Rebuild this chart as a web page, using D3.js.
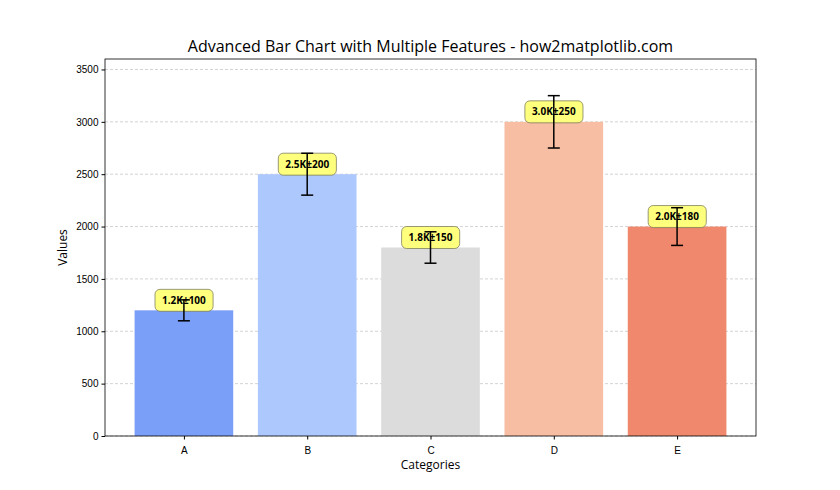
<!DOCTYPE html>
<html>
<head>
<meta charset="utf-8">
<script src="https://cdn.jsdelivr.net/npm/d3@7"></script>
<style>
  body { margin: 0; background: #fff; }
  svg { font-family: "Open Sans", "DejaVu Sans", sans-serif; }
</style>
</head>
<body>
<div id="chart"></div>
<script>
var categories = ["A", "B", "C", "D", "E"];
var values = [1200, 2500, 1800, 3000, 2000];
var errors = [100, 200, 150, 250, 180];
var labels = ["1.2K±100", "2.5K±200", "1.8K±150", "3.0K±250", "2.0K±180"];
var barColors = ["#7a9ff8", "#adc8fd", "#dcdcdc", "#f7bea4", "#ef886c"];
var yTicks = [0, 500, 1000, 1500, 2000, 2500, 3000, 3500];

var W = 840, H = 490;
var margin = {top: 59, right: 84, bottom: 54, left: 105},
    width = W - margin.left - margin.right,
    height = H - margin.top - margin.bottom;

var svg = d3.select("#chart")
    .append("svg")
    .attr("width", W)
    .attr("height", H)
    .append("g")
    .attr("transform", "translate(" + margin.left + "," + margin.top + ")");

// x: index positions, like matplotlib default margins
var x = d3.scaleLinear().domain([-0.64, 4.64]).range([0, width]);
var y = d3.scaleLinear().domain([0, 3600]).range([height, 0]);
var bw = x(0.8) - x(0);

// grid
svg.append("g")
    .selectAll("line")
    .data(yTicks)
    .enter()
    .append("line")
    .attr("x1", 0).attr("x2", width)
    .attr("y1", function(d) { return y(d); })
    .attr("y2", function(d) { return y(d); })
    .style("stroke", "#c8c8c8")
    .style("stroke-width", 0.8)
    .style("stroke-dasharray", "3,2");

// bars
svg.append("g")
    .selectAll("rect")
    .data(values)
    .enter()
    .append("rect")
    .attr("x", function(d, i) { return x(i) - bw / 2; })
    .attr("y", function(d) { return y(d); })
    .attr("width", bw)
    .attr("height", function(d) { return height - y(d); })
    .style("fill", function(d, i) { return barColors[i]; });

// value labels with boxes
var lg = svg.append("g");
values.forEach(function(v, i) {
    var g = lg.append("g")
        .attr("transform", "translate(" + x(i) + "," + (y(v) - 10) + ")");
    var t = g.append("text")
        .attr("text-anchor", "middle")
        .attr("dy", "0.35em")
        .style("font-size", "10px")
        .style("font-weight", "bold")
        .text(labels[i]);
    var bb = t.node().getBBox();
    g.insert("rect", "text")
        .attr("x", bb.x - 7)
        .attr("y", -11)
        .attr("width", bb.width + 14)
        .attr("height", 22)
        .attr("rx", 5)
        .style("fill", "#ffff70")
        .style("fill-opacity", 0.9)
        .style("stroke", "#808060")
        .style("stroke-width", 0.8);
});

// error bars (drawn over labels)
var eb = svg.append("g");
values.forEach(function(v, i) {
    var cx = x(i);
    eb.append("line")
        .attr("x1", cx).attr("x2", cx)
        .attr("y1", y(v - errors[i])).attr("y2", y(v + errors[i]))
        .style("stroke", "#000").style("stroke-width", 1.5);
    [v - errors[i], v + errors[i]].forEach(function(e) {
        eb.append("line")
            .attr("x1", cx - 6).attr("x2", cx + 6)
            .attr("y1", y(e)).attr("y2", y(e))
            .style("stroke", "#000").style("stroke-width", 1.5);
    });
});

// axes
svg.append("g")
    .attr("transform", "translate(0," + height + ")")
    .call(d3.axisBottom(x).tickValues([0, 1, 2, 3, 4])
        .tickFormat(function(d) { return categories[d]; })
        .tickSize(3.5).tickSizeOuter(0))
    .call(function(g) { g.select(".domain").remove(); })
    .selectAll("text").style("font-size", "10px").attr("dy", "1.1em");

svg.append("g")
    .call(d3.axisLeft(y).tickValues(yTicks).tickFormat(d3.format("d"))
        .tickSize(3.5).tickSizeOuter(0))
    .call(function(g) { g.select(".domain").remove(); })
    .selectAll("text").style("font-size", "10px");

// frame
svg.append("rect")
    .attr("width", width).attr("height", height)
    .style("fill", "none").style("stroke", "#000").style("stroke-width", 0.8);

// titles
svg.append("text")
    .attr("x", width / 2).attr("y", -7)
    .attr("text-anchor", "middle")
    .style("font-size", "16px")
    .text("Advanced Bar Chart with Multiple Features - how2matplotlib.com");

svg.append("text")
    .attr("x", width / 2).attr("y", height + 33)
    .attr("text-anchor", "middle")
    .style("font-size", "12px")
    .text("Categories");

svg.append("text")
    .attr("transform", "rotate(-90)")
    .attr("x", -height / 2).attr("y", -38)
    .attr("text-anchor", "middle")
    .style("font-size", "12px")
    .text("Values");
</script>
</body>
</html>
